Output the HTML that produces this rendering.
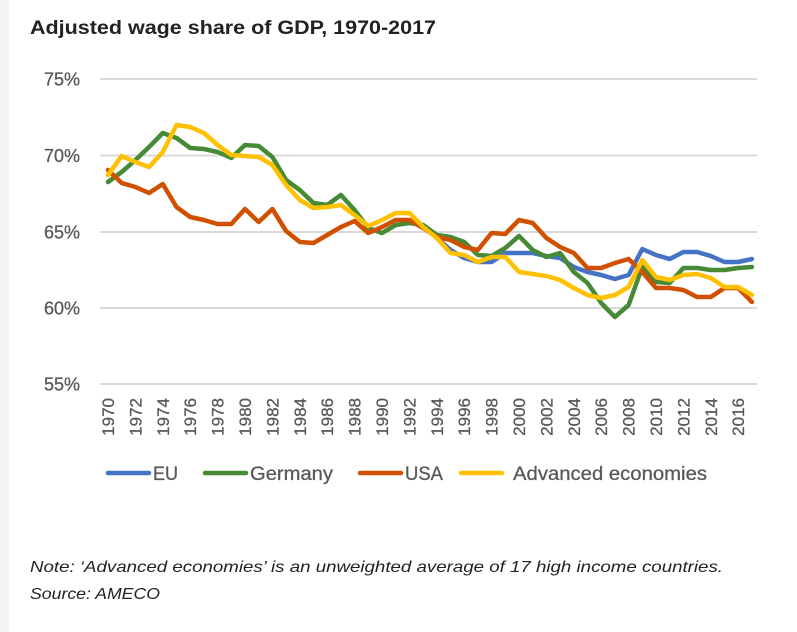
<!DOCTYPE html>
<html><head><meta charset="utf-8"><style>
html,body{margin:0;padding:0;background:#fff;}
body{width:797px;height:632px;overflow:hidden;position:relative;font-family:"Liberation Sans",sans-serif;}
</style></head><body>
<svg width="797" height="632" xmlns="http://www.w3.org/2000/svg" style="position:absolute;left:0;top:0">
<rect x="0" y="0" width="9" height="632" fill="#f3f3f3"/>
<text x="30" y="34" font-family="Liberation Sans, sans-serif" font-weight="bold" font-size="19" fill="#222" textLength="406" lengthAdjust="spacingAndGlyphs">Adjusted wage share of GDP, 1970-2017</text>
<g stroke="#d9d9d9" stroke-width="2">
<line x1="100" y1="79" x2="757" y2="79"/>
<line x1="100" y1="155.5" x2="757" y2="155.5"/>
<line x1="100" y1="232" x2="757" y2="232"/>
<line x1="100" y1="308" x2="757" y2="308"/>
<line x1="100" y1="384" x2="757" y2="384"/>
</g>
<g font-family="Liberation Sans, sans-serif" font-size="18" fill="#595959" text-anchor="end" stroke="#595959" stroke-width="0.3">
<text x="80" y="85.5">75%</text>
<text x="80" y="162">70%</text>
<text x="80" y="238.5">65%</text>
<text x="80" y="314.5">60%</text>
<text x="80" y="390.5">55%</text>
</g>
<g font-family="Liberation Sans, sans-serif" font-size="17" fill="#595959" text-anchor="end" stroke="#595959" stroke-width="0.3">
<text transform="translate(114,398) rotate(-90)">1970</text>
<text transform="translate(141.4,398) rotate(-90)">1972</text>
<text transform="translate(168.8,398) rotate(-90)">1974</text>
<text transform="translate(196.2,398) rotate(-90)">1976</text>
<text transform="translate(223.6,398) rotate(-90)">1978</text>
<text transform="translate(251,398) rotate(-90)">1980</text>
<text transform="translate(278.4,398) rotate(-90)">1982</text>
<text transform="translate(305.8,398) rotate(-90)">1984</text>
<text transform="translate(333.2,398) rotate(-90)">1986</text>
<text transform="translate(360.6,398) rotate(-90)">1988</text>
<text transform="translate(388,398) rotate(-90)">1990</text>
<text transform="translate(415.4,398) rotate(-90)">1992</text>
<text transform="translate(442.8,398) rotate(-90)">1994</text>
<text transform="translate(470.2,398) rotate(-90)">1996</text>
<text transform="translate(497.6,398) rotate(-90)">1998</text>
<text transform="translate(525,398) rotate(-90)">2000</text>
<text transform="translate(552.4,398) rotate(-90)">2002</text>
<text transform="translate(579.8,398) rotate(-90)">2004</text>
<text transform="translate(607.2,398) rotate(-90)">2006</text>
<text transform="translate(634.6,398) rotate(-90)">2008</text>
<text transform="translate(662,398) rotate(-90)">2010</text>
<text transform="translate(689.4,398) rotate(-90)">2012</text>
<text transform="translate(716.8,398) rotate(-90)">2014</text>
<text transform="translate(744.2,398) rotate(-90)">2016</text>
</g>
<g fill="none" stroke-width="4.5" stroke-linejoin="round" stroke-linecap="round">
<polyline stroke="#4472c4" points="423.1,226 436.8,238 450.5,250 464.2,258 477.9,262 491.6,262 505.3,253 519,253 532.7,253 546.4,256 560.1,258 573.8,267 587.5,272 601.2,275 614.9,279 628.6,275 642.3,249 656,255 669.7,259 683.4,252 697.1,252 710.8,256 724.5,262 738.2,262 751.9,259"/>
<polyline stroke="#478a36" points="108,182 121.7,172 135.4,160 149.1,147 162.8,133 176.5,138 190.2,148 203.9,149 217.6,152 231.3,158 245,145 258.7,146 272.4,157 286.1,180 299.8,190 313.5,203 327.2,205 340.9,195 354.6,210 368.3,228 382,233 395.7,225 409.4,223 423.1,225 436.8,235 450.5,237 464.2,242 477.9,255 491.6,256 505.3,248 519,236 532.7,250 546.4,257 560.1,253 573.8,272 587.5,283 601.2,303 614.9,317 628.6,305 642.3,267 656,282 669.7,283 683.4,268 697.1,268 710.8,270 724.5,270 738.2,268 751.9,267"/>
<polyline stroke="#d05000" points="108,170 121.7,183 135.4,187 149.1,193 162.8,184 176.5,207 190.2,217 203.9,220 217.6,224 231.3,224 245,209 258.7,222 272.4,209 286.1,231 299.8,242 313.5,243 327.2,235 340.9,227 354.6,221 368.3,233 382,227 395.7,220 409.4,220 423.1,228 436.8,237 450.5,240 464.2,247 477.9,250 491.6,233 505.3,234 519,220 532.7,223 546.4,238 560.1,247 573.8,253 587.5,268 601.2,268 614.9,263 628.6,259 642.3,272 656,288 669.7,288 683.4,290 697.1,297 710.8,297 724.5,288 738.2,288 751.9,302"/>
<polyline stroke="#ffc000" points="108,175 121.7,156 135.4,162 149.1,167 162.8,152 176.5,125 190.2,127 203.9,133 217.6,145 231.3,155 245,156 258.7,157 272.4,165 286.1,185 299.8,200 313.5,208 327.2,207 340.9,205 354.6,215 368.3,226 382,220 395.7,213 409.4,213 423.1,227 436.8,238 450.5,253 464.2,255 477.9,262 491.6,257 505.3,257 519,272 532.7,274 546.4,276 560.1,280 573.8,288 587.5,295 601.2,298 614.9,295 628.6,287 642.3,260 656,277 669.7,280 683.4,275 697.1,274 710.8,278 724.5,287 738.2,287 751.9,295"/>
</g>
<g stroke-width="4.5" stroke-linecap="round">
<line x1="108" y1="473" x2="149" y2="473" stroke="#4472c4"/>
<line x1="205" y1="473" x2="246" y2="473" stroke="#478a36"/>
<line x1="360" y1="473" x2="401" y2="473" stroke="#d05000"/>
<line x1="461" y1="473" x2="502" y2="473" stroke="#ffc000"/>
</g>
<g font-family="Liberation Sans, sans-serif" font-size="19" fill="#595959" stroke="#595959" stroke-width="0.3">
<text x="153" y="480" textLength="25" lengthAdjust="spacingAndGlyphs">EU</text>
<text x="250" y="480" textLength="83" lengthAdjust="spacingAndGlyphs">Germany</text>
<text x="405" y="480" textLength="38" lengthAdjust="spacingAndGlyphs">USA</text>
<text x="513" y="480" textLength="194" lengthAdjust="spacingAndGlyphs">Advanced economies</text>
</g>
<g font-family="Liberation Sans, sans-serif" font-size="16" font-style="italic" fill="#222">
<text x="30" y="572" textLength="693" lengthAdjust="spacingAndGlyphs">Note: ‘Advanced economies’ is an unweighted average of 17 high income countries.</text>
<text x="30" y="599" textLength="130" lengthAdjust="spacingAndGlyphs">Source: AMECO</text>
</g>
</svg>
</body></html>
